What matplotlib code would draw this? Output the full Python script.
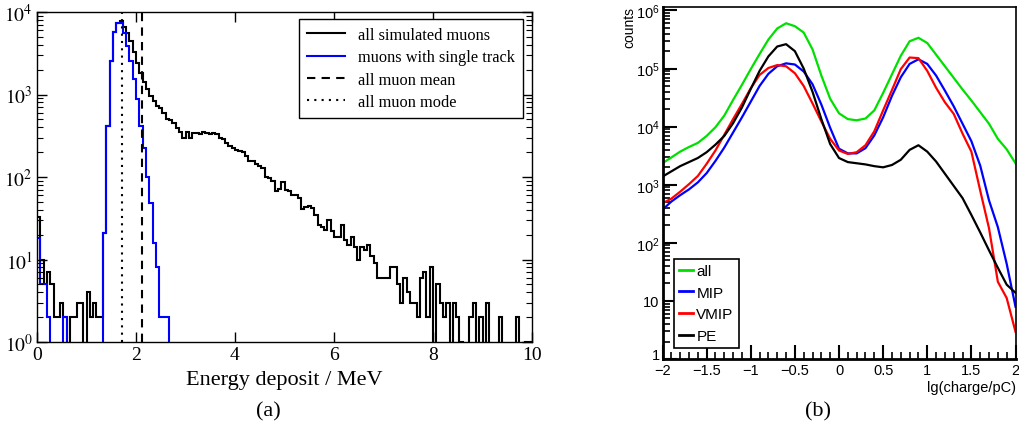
import numpy as np
import matplotlib.pyplot as plt
from matplotlib.ticker import FixedLocator, LogLocator, MultipleLocator, NullFormatter, NullLocator

plt.rcParams['mathtext.fontset'] = 'custom'
plt.rcParams['mathtext.rm'] = 'Liberation Sans'
plt.rcParams['mathtext.it'] = 'Liberation Sans'

# ---- panel (a): energy deposit histograms, 150 bins over 0..10 MeV
edges_a = np.linspace(0, 10, 151)
all_muons = [
    33, 10, 5, 7, 5, 2, 2, 3, 2, 0,
    2, 2, 3, 3, 0, 4, 2, 3, 2, 2,
    21, 410, 2550, 5700, 7400, 7700, 6500, 5500, 4400, 3300,
    2400, 1800, 1400, 1150, 970, 830, 720, 690, 590, 510,
    490, 450, 390, 350, 300, 350, 300, 340, 345, 335,
    350, 345, 330, 345, 330, 300, 285, 260, 235, 225,
    210, 205, 200, 178, 158, 155, 145, 135, 130, 100,
    97, 90, 68, 72, 86, 70, 68, 60, 60, 55,
    41, 43, 45, 42, 35, 26, 25, 23, 30, 22,
    19, 19, 26, 17, 15, 19, 14, 10, 14, 13,
    15, 11, 9, 6, 6, 6, 6, 8, 8, 5,
    3, 6, 4, 3, 3, 2, 6, 7, 2, 8,
    0, 5, 3, 2, 3, 0, 3, 2, 1, 0,
    0, 2, 3, 0, 2, 0, 3, 0, 0, 0,
    2, 0, 0, 0, 0, 2, 0, 0, 1, 1,
]
single_track = [
    18, 5, 5, 2, 0, 0, 0, 0, 2, 0,
    0, 0, 0, 0, 0, 0, 0, 0, 0, 0,
    21, 410, 2550, 5650, 7400, 7300, 5600, 3900, 2560, 1550,
    890, 410, 225, 100, 48, 16, 8, 2, 2, 2,
] + [0] * 110
mean_all = 2.13
mode_all = 1.71

# ---- panel (b): charge spectra, log10 counts read every 0.1 in lg(charge/pC)
lgq = np.round(np.arange(-2.0, 2.01, 0.1), 2)
log_all = [3.37, 3.47, 3.57, 3.65, 3.72, 3.84, 3.99, 4.19, 4.46, 4.72,
           4.99, 5.25, 5.50, 5.69, 5.78, 5.73, 5.62, 5.33, 4.88, 4.48,
           4.23, 4.13, 4.11, 4.14, 4.28, 4.58, 4.90, 5.22, 5.47, 5.53,
           5.44, 5.24, 5.04, 4.84, 4.64, 4.45, 4.25, 4.05, 3.79, 3.61, 3.37]
log_mip = [2.57, 2.71, 2.82, 2.92, 3.04, 3.20, 3.41, 3.64, 3.90, 4.16,
           4.43, 4.70, 4.91, 5.04, 5.09, 5.07, 4.95, 4.73, 4.38, 3.98,
           3.62, 3.54, 3.54, 3.63, 3.85, 4.16, 4.53, 4.85, 5.08, 5.16,
           5.08, 4.88, 4.62, 4.35, 4.05, 3.75, 3.33, 2.73, 2.27, 1.64, 0.90]
log_vmip = [2.68, 2.76, 2.88, 3.01, 3.15, 3.36, 3.59, 3.86, 4.13, 4.39,
            4.66, 4.89, 5.01, 5.06, 5.04, 4.92, 4.70, 4.40, 4.09, 3.79,
            3.59, 3.53, 3.56, 3.68, 3.92, 4.28, 4.63, 4.99, 5.19, 5.18,
            4.96, 4.67, 4.42, 4.22, 3.88, 3.57, 2.90, 2.25, 1.33, 1.05, 0.47]
log_pe = [3.14, 3.23, 3.32, 3.39, 3.46, 3.56, 3.69, 3.84, 4.06, 4.33,
          4.65, 4.96, 5.21, 5.38, 5.42, 5.30, 5.00, 4.60, 4.13, 3.70,
          3.46, 3.39, 3.37, 3.35, 3.32, 3.30, 3.34, 3.43, 3.60, 3.68,
          3.57, 3.40, 3.19, 2.98, 2.77, 2.48, 2.18, 1.87, 1.57, 1.28, 1.14]
curves_b = [('all', log_all, '#00e000'), ('MIP', log_mip, '#0000ff'),
            ('VMIP', log_vmip, '#ff0000'), ('PE', log_pe, 'black')]

fig = plt.figure(figsize=(10.19, 4.39), dpi=100)

# ---------------- (a)
serif = 'Liberation Serif'
ax = fig.add_axes([37/1019, 96/439, 495/1019, 330/439])
v_all = np.array(all_muons, dtype=float)
v_one = np.array(single_track, dtype=float)
ax.stairs(np.where(v_all > 0, v_all, 1e-3), edges_a, baseline=None, color='black', lw=1.5,
          label='all simulated muons')
ax.stairs(np.where(v_one > 0, v_one, 1e-3), edges_a, baseline=None, color='#0000ff', lw=1.5,
          label='muons with single track')
ax.axvline(mean_all, color='black', ls=(0, (4, 3)), lw=1.5, label='all muon mean')
ax.axvline(mode_all, color='black', ls=(0, (1, 2.5)), lw=1.5, label='all muon mode')
ax.set_yscale('log')
ax.set_xlim(0, 10)
ax.set_ylim(1, 1e4)
ax.xaxis.set_major_locator(MultipleLocator(2))
ax.xaxis.set_minor_locator(NullLocator())
ax.yaxis.set_major_locator(FixedLocator([1, 10, 100, 1000, 10000]))
ax.yaxis.set_minor_locator(LogLocator(base=10, subs=np.arange(2, 10)))
ax.yaxis.set_minor_formatter(NullFormatter())
ax.set_yticklabels([r'$10^{%d}$' % k for k in range(5)], math_fontfamily='stix', fontsize=14)
for t in ax.get_xticklabels():
    t.set_fontfamily(serif)
    t.set_fontsize(14)
ax.tick_params(which='both', direction='in', top=True, right=True, pad=3)
ax.tick_params(which='major', length=7, width=1)
ax.tick_params(which='minor', length=4, width=0.8)
for s in ax.spines.values():
    s.set_linewidth(1.0)
ax.set_xlabel('Energy deposit / MeV', family=serif, fontsize=16, labelpad=5)
leg = ax.legend(loc='upper right', bbox_to_anchor=(0.982, 0.979), prop={'family': serif, 'size': 11.8},
                fancybox=False, framealpha=1, edgecolor='black', handlelength=2.3,
                borderpad=0.5, labelspacing=0.38, borderaxespad=0)
leg.get_frame().set_linewidth(1.0)
fig.text(268/1019, 1 - 412/439, '(a)', family=serif, fontsize=16, ha='center', va='center')

# ---------------- (b)
sans = 'Liberation Sans'
bx = fig.add_axes([662.5/1019, 79/439, 353/1019, 352/439])
for name, lv, col in curves_b:
    bx.plot(lgq, 10 ** np.array(lv), color=col, lw=1.6, label=name)
bx.set_yscale('log')
bx.set_xlim(-2, 2)
bx.set_ylim(1, 10 ** 6.06)
bx.xaxis.set_major_locator(MultipleLocator(0.5))
bx.xaxis.set_minor_locator(MultipleLocator(0.1))
bx.yaxis.set_major_locator(FixedLocator([1, 10, 1e2, 1e3, 1e4, 1e5, 1e6]))
bx.yaxis.set_minor_locator(LogLocator(base=10, subs=np.arange(2, 10)))
bx.yaxis.set_minor_formatter(NullFormatter())
ylabs = bx.set_yticklabels(['1', '10', r'$10^{2}$', r'$10^{3}$', r'$10^{4}$', r'$10^{5}$', r'$10^{6}$'],
                           fontsize=10.5, family=sans)
ylabs[0].set_verticalalignment('baseline')
xt = [-2, -1.5, -1, -0.5, 0, 0.5, 1, 1.5, 2]
bx.set_xticks(xt)
bx.set_xticklabels([('%g' % v).replace('-', '\u2212') for v in xt], fontsize=10.5, family=sans)
bx.tick_params(which='both', direction='in', top=False, right=False, pad=3)
bx.tick_params(axis='y', pad=2)
bx.tick_params(which='major', length=10, width=1.5)
bx.tick_params(which='minor', length=5, width=1.2)
bx.spines['left'].set_linewidth(2)
bx.spines['bottom'].set_linewidth(2)
bx.spines['top'].set_linewidth(1.2)
bx.spines['right'].set_linewidth(1.2)
lg = bx.legend(loc='lower left', bbox_to_anchor=(0.033, 0.03), prop={'family': sans, 'size': 11},
               fancybox=False, framealpha=1, edgecolor='black', handlelength=0.9, handletextpad=0.2,
               borderpad=0.35, labelspacing=0.5, borderaxespad=0)
lg.get_frame().set_linewidth(1.2)
for h in lg.get_lines():
    h.set_linewidth(2)
fig.text(629/1019, 1 - 28/439, 'counts', family=sans, fontsize=10, rotation=90, ha='center', va='center')
fig.text(1016/1019, 1 - 388/439, 'lg(charge/pC)', family=sans, fontsize=10.5, ha='right', va='center')
fig.text(818/1019, 1 - 412/439, '(b)', family=serif, fontsize=16, ha='center', va='center')

fig.savefig('out.png', dpi=100)
